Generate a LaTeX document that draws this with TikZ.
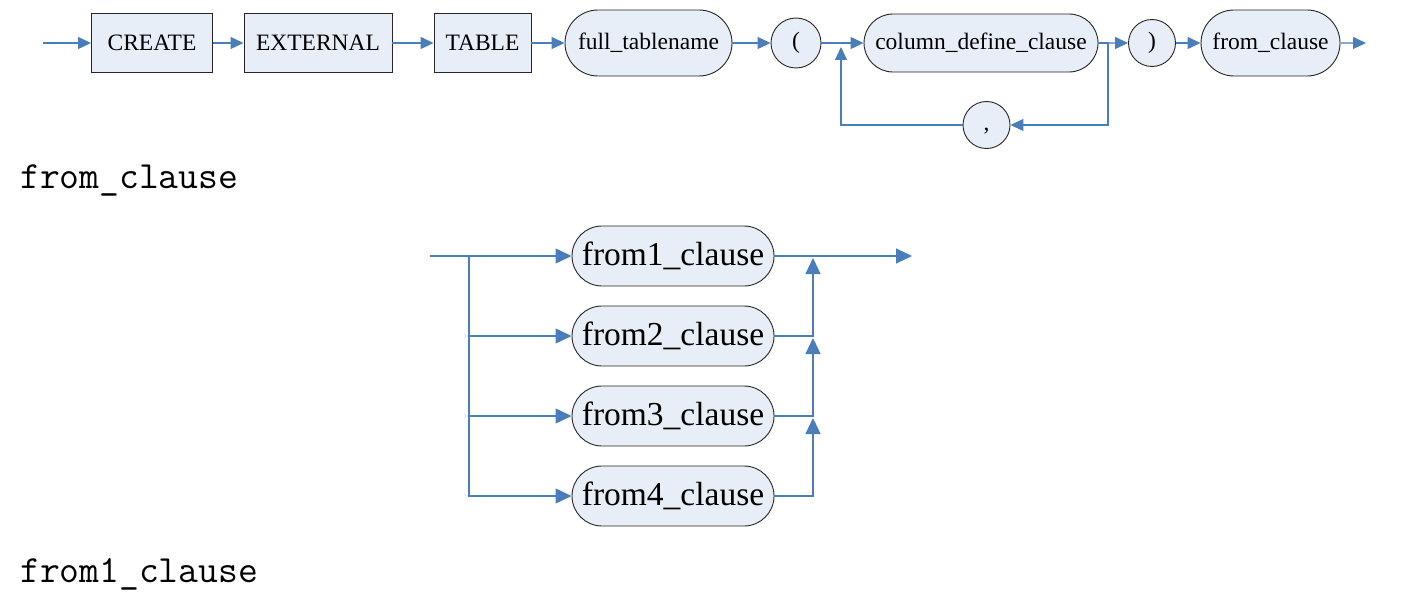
\documentclass[tikz,border=0pt]{standalone}
\usepackage{fontspec}
\setmainfont{Liberation Serif}
\usetikzlibrary{arrows.meta, shapes.misc}
\definecolor{flowblue}{HTML}{4A7EBB}
\definecolor{boxfill}{HTML}{E8EEF7}

\begin{document}
\begin{tikzpicture}[x=1pt, y=-1pt,
		keyword/.style={draw=black!85, line width=0.9pt, fill=boxfill, inner sep=0pt,
			minimum height=59pt, font=\fontsize{23.5}{28}\selectfont},
		clause/.style={rounded rectangle, draw=black!85, line width=0.9pt, fill=boxfill,
			inner sep=0pt, font=\fontsize{23.5}{28}\selectfont},
		symbol/.style={circle, draw=black!85, line width=0.9pt, fill=boxfill,
			inner sep=0pt, font=\fontsize{23.5}{28}\selectfont},
		option/.style={clause, minimum width=202pt, minimum height=60pt,
			font=\fontsize{33.5}{38}\selectfont},
		title/.style={anchor=base west, inner sep=0pt, font=\ttfamily\fontsize{38.5}{42}\selectfont},
		flow/.style={draw=flowblue, line width=1.1pt},
		tip/.style={-{Triangle[length=13pt, width=12pt]}},
		bigtip/.style={-{Triangle[length=16pt, width=15pt]}}]
	\useasboundingbox (0,0) rectangle (1423,610);
	
	% statement row
	\coordinate (entry) at (43,43);
	\node[keyword, minimum width=121pt] (create) at (152,43) {CREATE};
	\node[keyword, minimum width=148pt] (external) at (318,43) {EXTERNAL};
	\node[keyword, minimum width=97pt] (table) at (482.5,43) {TABLE};
	\node[clause, minimum width=167pt, minimum height=66pt] (tablename) at (648.5,43) {full\_tablename};
	\node[symbol, minimum size=50pt] (lparen) at (796,43) {(};
	\node[clause, minimum width=234pt, minimum height=58pt] (coldef) at (981,43) {column\_define\_clause};
	\node[symbol, minimum size=47pt] (rparen) at (1152,43) {)};
	\node[clause, minimum width=139pt, minimum height=66pt] (fromcl) at (1270.5,43) {from\_clause};
	\coordinate (exit) at (1366,43);
	\node[symbol, minimum size=47pt] (comma) at (986.5,125) {\strut,};
	\coordinate (loopR) at (1108,125);
	\coordinate (loopL) at (841,47);
	
	\begin{scope}[flow, tip]
		\draw (entry) -- (create);
		\draw (create) -- (external);
		\draw (external) -- (table);
		\draw (table) -- (tablename);
		\draw (tablename.east) -- (lparen.west);
		\draw (lparen) -- (coldef);
		\draw (coldef) -- (rparen);
		\draw (rparen) -- (fromcl);
		\draw (fromcl) -- (exit);
		\draw (coldef.east) -| (loopR) -- (comma.east);
		\draw (comma.west) -| (loopL);
	\end{scope}
	
	% from_clause
	\node[title] (fromtitle) at (20,188) {from\_clause};
	\foreach \i/\y in {1/256, 2/336, 3/416, 4/496}
		\node[option] (from\i) at (673,\y) {from\i\_clause};
	\coordinate (split) at (430,256);
	\coordinate (branch) at (469,256);
	\coordinate (up1) at (813,258);
	\coordinate (up2) at (813,338);
	\coordinate (up3) at (813,418);
	\coordinate (out) at (912,256);
	
	\begin{scope}[flow, bigtip]
		\draw (split) -- (from1.west);
		\foreach \i in {2,3,4}
			\draw (branch) |- (from\i.west);
		\draw (from1.east) -- (out);
		\draw (from2.east) -| (up1);
		\draw (from3.east) -| (up2);
		\draw (from4.east) -| (up3);
	\end{scope}
	
	% from1_clause
	\node[title] (from1title) at (20,582) {from1\_clause};
\end{tikzpicture}
\end{document}
